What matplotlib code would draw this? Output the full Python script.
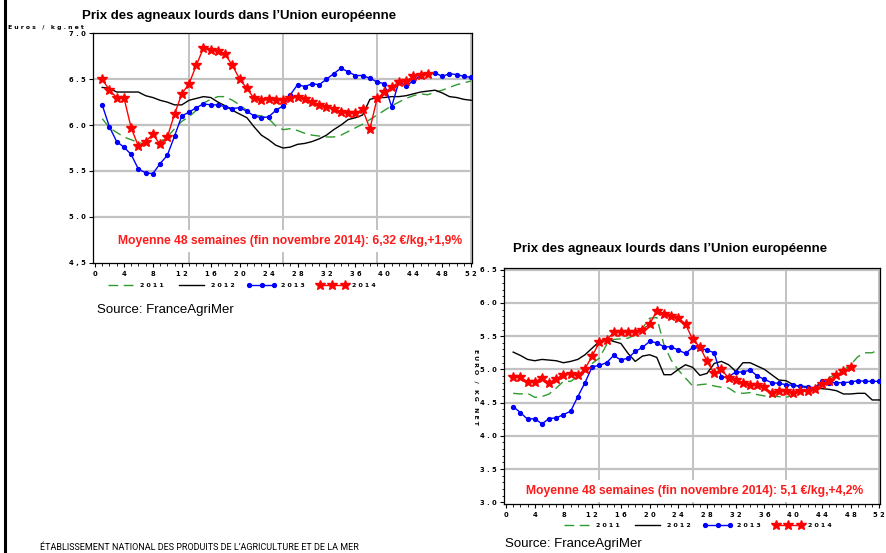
import matplotlib
matplotlib.use('Agg')
import matplotlib.pyplot as plt
from matplotlib.lines import Line2D
from matplotlib.ticker import MultipleLocator, FixedLocator

# ---------------- data ----------------
weeks = list(range(1, 53))

left_2011 = [6.07, 5.97, 5.92, 5.87, 5.84, 5.81, 5.79, 5.79, 5.82, 5.87, 5.96, 6.04, 6.09,
             6.16, 6.24, 6.28, 6.31, 6.31, 6.27, 6.22, 6.16, 6.11, 6.10, 6.07, 5.99, 5.95,
             5.96, 5.94, 5.91, 5.89, 5.88, 5.87, 5.87, 5.89, 5.93, 5.97, 6.01, 6.06, 6.11,
             6.16, 6.21, 6.25, 6.29, 6.32, 6.34, 6.33, 6.36, 6.38, 6.41, 6.44, 6.46, 6.48]
left_2012 = [6.41, 6.40, 6.36, 6.36, 6.36, 6.36, 6.32, 6.30, 6.27, 6.25, 6.22, 6.22, 6.27,
             6.29, 6.31, 6.30, 6.25, 6.21, 6.16, 6.12, 6.08, 5.98, 5.89, 5.84, 5.78, 5.75,
             5.76, 5.79, 5.80, 5.82, 5.85, 5.89, 5.95, 6.00, 6.06, 6.08, 6.11, 6.28, 6.30,
             6.30, 6.31, 6.31, 6.32, 6.34, 6.36, 6.37, 6.38, 6.35, 6.31, 6.30, 6.28, 6.27]
left_2013 = [6.22, 5.98, 5.82, 5.76, 5.68, 5.52, 5.48, 5.47, 5.58, 5.67, 5.88, 6.10, 6.14,
             6.19, 6.23, 6.22, 6.22, 6.20, 6.18, 6.19, 6.15, 6.10, 6.08, 6.09, 6.16, 6.21,
             6.33, 6.44, 6.42, 6.45, 6.44, 6.50, 6.56, 6.62, 6.58, 6.54, 6.54, 6.51, 6.47,
             6.45, 6.20, 6.47, 6.43, 6.48, 6.54, 6.56, 6.57, 6.53, 6.56, 6.55, 6.53, 6.52]
left_2014 = [6.50, 6.38, 6.30, 6.30, 5.97, 5.77, 5.82, 5.90, 5.79, 5.87, 6.12, 6.34, 6.45,
             6.65, 6.84, 6.82, 6.81, 6.77, 6.65, 6.50, 6.40, 6.29, 6.27, 6.28, 6.27, 6.27,
             6.30, 6.31, 6.28, 6.25, 6.22, 6.20, 6.17, 6.14, 6.13, 6.13, 6.17, 5.96, 6.29,
             6.36, 6.41, 6.47, 6.48, 6.53, 6.55, 6.56]

right_2011 = [4.64, 4.63, 4.64, 4.58, 4.59, 4.63, 4.72, 4.82, 4.82, 4.89, 4.99, 5.09, 5.17,
              5.37, 5.45, 5.46, 5.47, 5.52, 5.62, 5.77, 5.78, 5.37, 5.14, 4.99, 4.87, 4.75,
              4.77, 4.78, 4.75, 4.73, 4.72, 4.65, 4.64, 4.65, 4.62, 4.60, 4.60, 4.59, 4.58,
              4.61, 4.64, 4.69, 4.73, 4.80, 4.87, 4.94, 4.99, 5.07, 5.19, 5.25, 5.25, 5.30]
right_2012 = [5.26, 5.21, 5.15, 5.13, 5.15, 5.14, 5.13, 5.10, 5.12, 5.15, 5.22, 5.32, 5.42,
              5.46, 5.42, 5.39, 5.24, 5.12, 5.20, 5.22, 5.18, 4.92, 4.92, 5.00, 5.07, 5.03,
              4.91, 4.94, 5.09, 5.12, 5.07, 4.97, 5.10, 5.10, 5.05, 5.00, 4.92, 4.84, 4.83,
              4.77, 4.74, 4.73, 4.71, 4.71, 4.70, 4.68, 4.63, 4.63, 4.64, 4.64, 4.54, 4.54]
right_2013 = [4.44, 4.35, 4.25, 4.26, 4.18, 4.26, 4.27, 4.32, 4.37, 4.59, 4.80, 5.04, 5.06,
              5.10, 5.21, 5.14, 5.17, 5.27, 5.33, 5.42, 5.40, 5.34, 5.34, 5.29, 5.24, 5.33,
              5.32, 5.29, 5.25, 4.88, 4.89, 4.96, 4.96, 4.99, 4.90, 4.85, 4.80, 4.79, 4.77,
              4.76, 4.75, 4.74, 4.72, 4.82, 4.80, 4.80, 4.80, 4.81, 4.83, 4.82, 4.82, 4.82]
right_2014 = [4.89, 4.89, 4.81, 4.81, 4.87, 4.80, 4.86, 4.92, 4.93, 4.91, 5.01, 5.20, 5.41,
              5.44, 5.56, 5.57, 5.57, 5.57, 5.60, 5.68, 5.88, 5.83, 5.81, 5.78, 5.68, 5.45,
              5.34, 5.12, 4.94, 5.00, 4.87, 4.84, 4.80, 4.76, 4.76, 4.73, 4.65, 4.67, 4.68,
              4.64, 4.67, 4.67, 4.71, 4.78, 4.83, 4.92, 4.97, 5.03]

series_labels = ['2011', '2012', '2013', '2014']
xtick_values = list(range(0, 53, 4))
xtick_labels = [str(v) for v in xtick_values]
left_ytick_values = [4.5, 5.0, 5.5, 6.0, 6.5, 7.0]
left_ytick_labels = ['4,5', '5.0', '5.5', '6.0', '6.5', '7.0']
right_ytick_values = [3.0, 3.5, 4.0, 4.5, 5.0, 5.5, 6.0, 6.5]
right_ytick_labels = ['3.0', '3.5', '4.0', '4.5', '5.0', '5.5', '6.0', '6.5']
title_text = "Prix des agneaux lourds dans l’Union européenne"
left_note = "Moyenne 48 semaines (fin novembre 2014): 6,32 €/kg,+1,9%"
right_note = "Moyenne 48 semaines (fin novembre 2014): 5,1 €/kg,+4,2%"
left_unit = "Euros / kg.net"
right_unit = "EURO / KG NET"
source_text = "Source: FranceAgriMer"
footer_text = "ÉTABLISSEMENT NATIONAL DES PRODUITS DE L’AGRICULTURE ET DE LA MER"

# ---------------- styles ----------------
W, H = 886, 553
styles = [
    dict(color='#2f9a2f', ls=(0, (7, 4)), lw=1.0),
    dict(color='black', ls='-', lw=1.0),
    dict(color='#0000ff', ls='-', lw=1.0, marker='o', ms=2.8),
    dict(color='#ff0000', ls='-', lw=1.0, marker='*', ms=7.2, mec='#ff0000'),
]
small = dict(family='DejaVu Sans', weight='bold', size=4.9)
tiny = dict(family='DejaVu Sans', weight='bold', size=4.4)


def spaced(s):
    return ' '.join(list(s))


fig = plt.figure(figsize=(W / 100, H / 100), dpi=100)


def px_axes(x0, y0, x1, y1):
    return fig.add_axes([x0 / W, 1 - y1 / H, (x1 - x0) / W, (y1 - y0) / H])


def draw(ax, data, xlim, ylim, yticks, ylabels, note, note_xy, leg_anchor):
    ax.set_xlim(*xlim)
    ax.set_ylim(*ylim)
    for v in yticks[1:-1] if ylim[1] - yticks[-1] < 0.01 else yticks[1:]:
        ax.axhline(v, color='#c2c2c2', lw=1.6, zorder=1)
    for v in (13, 26, 39, 52):
        ax.axvline(v, color='#c2c2c2', lw=1.4, zorder=1)
    handles = []
    for vals, st, lab in zip(data, styles, series_labels):
        h, = ax.plot(weeks[:len(vals)], vals, label=spaced(lab), zorder=3, **st)
        handles.append(h)
    ax.xaxis.set_major_locator(FixedLocator(xtick_values))
    ax.set_xticklabels([spaced(t) for t in xtick_labels], fontdict=small)
    ax.xaxis.set_minor_locator(MultipleLocator(1))
    ax.yaxis.set_major_locator(FixedLocator(yticks))
    ax.set_yticklabels([spaced(t) for t in ylabels], fontdict=small)
    ax.tick_params(axis='both', which='major', length=3, width=0.8, direction='out', pad=2.5)
    ax.tick_params(axis='x', which='minor', length=1.8, width=0.6, direction='out')
    for s in ax.spines.values():
        s.set_linewidth(0.9)
        s.set_color('black')
    ax.text(note_xy[0], note_xy[1], note, color='#ff1a1a', weight='bold', size=8.7,
            family='Liberation Sans', ha='center', va='center', zorder=5,
            bbox=dict(facecolor='white', edgecolor='none', pad=3.5))
    leg = ax.legend(handles=handles, loc='center left', bbox_to_anchor=leg_anchor,
                    ncol=4, frameon=False, numpoints=3, handlelength=4.6,
                    handletextpad=0.8, columnspacing=2.1, borderpad=0, borderaxespad=0,
                    prop=dict(family='DejaVu Sans', weight='bold', size=4.5))
    return leg


# left chart
axL = px_axes(93.3, 33.3, 471.7, 263.3)
draw(axL, [left_2011, left_2012, left_2013, left_2014], (-0.23, 52.07), (4.4935, 7.0),
     left_ytick_values, left_ytick_labels, left_note, (27.0, 4.737), (0.034, -0.097))

# right chart
axR = px_axes(504.3, 267.7, 880.0, 504.3)
axR.yaxis.set_minor_locator(MultipleLocator(0.1))
axR.tick_params(axis='y', which='minor', length=1.6, width=0.6, direction='out')
draw(axR, [right_2011, right_2012, right_2013, right_2014], (-0.24, 52.09), (2.97, 6.53),
     right_ytick_values, right_ytick_labels, right_note, (26.3, 3.172), (0.154, -0.0875))

# texts
tfont = dict(family='Liberation Sans', weight='bold', size=9.5)
fig.text(239 / W, 1 - 15.7 / H, title_text, ha='center', va='center', **tfont)
fig.text(670.5 / W, 1 - 249 / H, title_text, ha='center', va='center', **tfont)
fig.text(8 / W, 1 - 27.7 / H, spaced(left_unit), ha='left', va='center', **tiny)
fig.text(476 / W, 1 - 387 / H, spaced(right_unit), ha='center', va='center', rotation=-90, **tiny)
sfont = dict(family='Liberation Sans', size=9.5)
fig.text(97 / W, 1 - 310 / H, source_text, ha='left', va='center', **sfont)
fig.text(505 / W, 1 - 544 / H, source_text, ha='left', va='center', **sfont)
fig.text(40 / W, 1 - 548 / H, footer_text, ha='left', va='center', family='Roboto',
         size=6.45)

# page border on the left
fig.add_artist(Line2D([4.5 / W, 4.5 / W], [0, 1], color='black', lw=2.2))

fig.savefig('out.png', dpi=100)
